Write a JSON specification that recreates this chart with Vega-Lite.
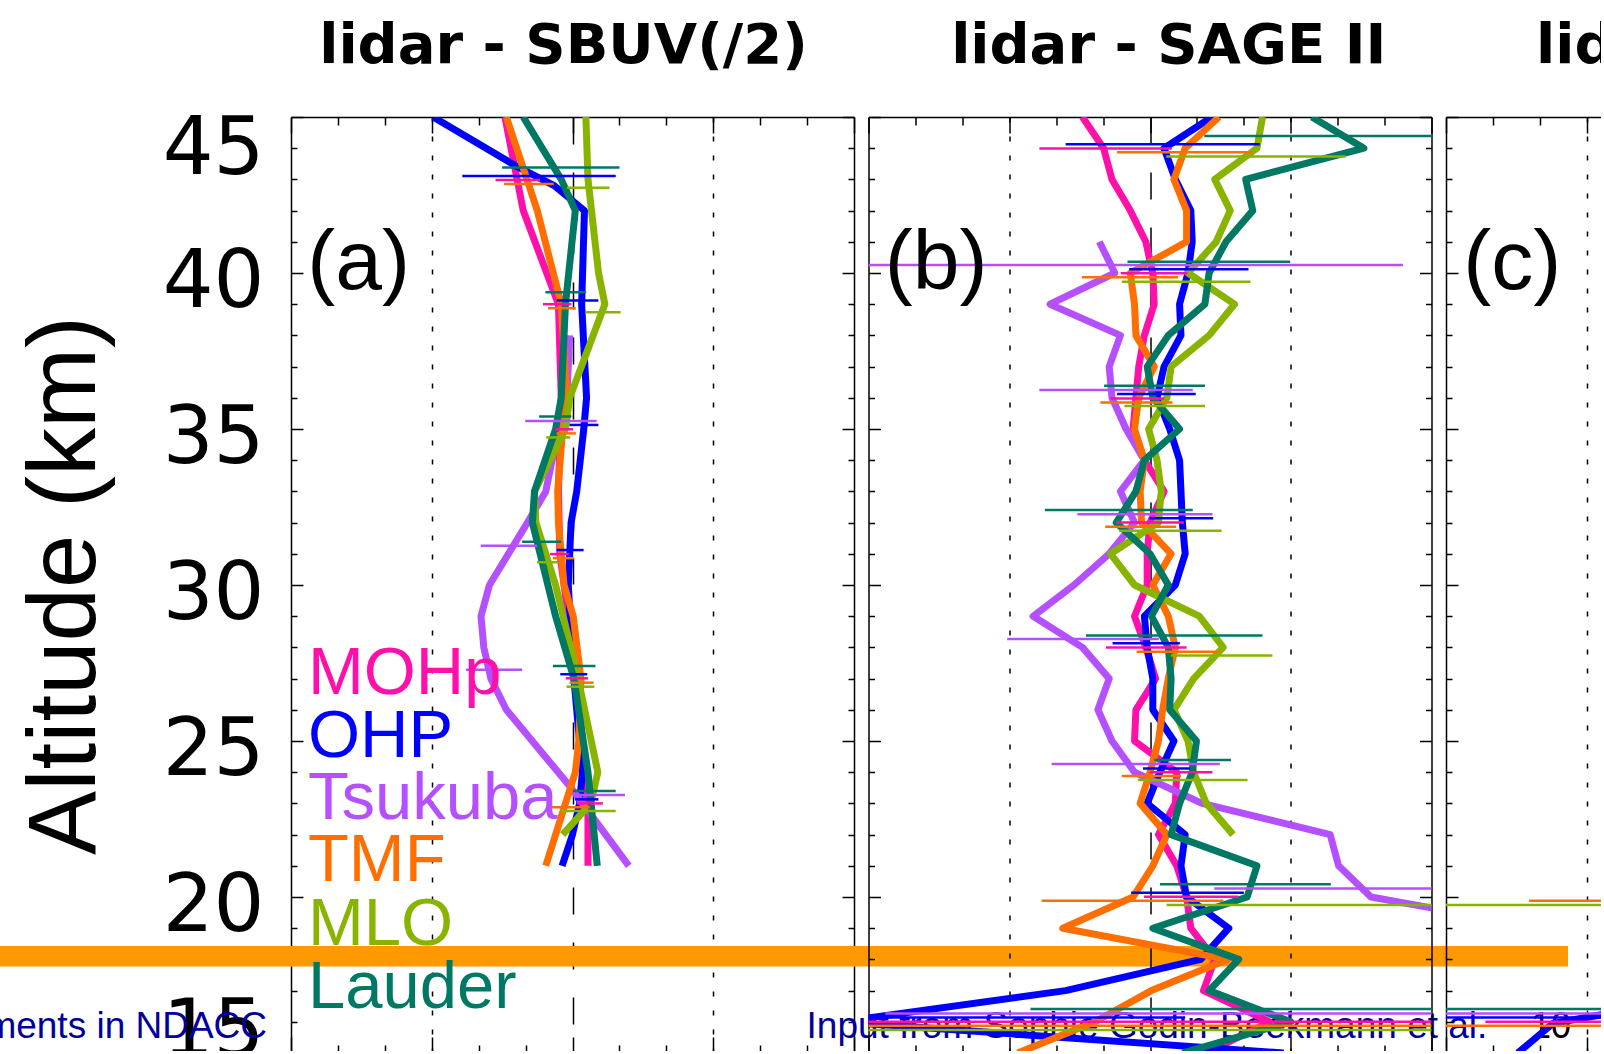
{
  "$schema": "https://vega.github.io/schema/vega-lite/v6.json",
  "background": "white",
  "padding": {"left": -60, "top": 18, "right": -409, "bottom": -20},
  "bounds": "flush",
  "spacing": 14.5,
  "config": {"view": {"stroke": null}, "axis": {"minExtent": 0}},
  "datasets": {
    "one": [{}],
    "prof": [
      {"panel": "a", "station": "MOHp", "alt": 45, "diff": -4.8},
      {"panel": "a", "station": "MOHp", "alt": 42, "diff": -3.5},
      {"panel": "a", "station": "MOHp", "alt": 39, "diff": -1.0},
      {"panel": "a", "station": "MOHp", "alt": 36, "diff": -0.8},
      {"panel": "a", "station": "MOHp", "alt": 33, "diff": -1.0},
      {"panel": "a", "station": "MOHp", "alt": 31, "diff": -0.9},
      {"panel": "a", "station": "MOHp", "alt": 30, "diff": -0.6},
      {"panel": "a", "station": "MOHp", "alt": 27, "diff": 0.3},
      {"panel": "a", "station": "MOHp", "alt": 24, "diff": 0.9},
      {"panel": "a", "station": "MOHp", "alt": 23, "diff": 1.1},
      {"panel": "a", "station": "MOHp", "alt": 21, "diff": 1.1},
      {"panel": "a", "station": "OHP", "alt": 45, "diff": -9.9},
      {"panel": "a", "station": "OHP", "alt": 43.4, "diff": -3.9},
      {"panel": "a", "station": "OHP", "alt": 42.8, "diff": -1.3},
      {"panel": "a", "station": "OHP", "alt": 42, "diff": 0.85},
      {"panel": "a", "station": "OHP", "alt": 39, "diff": 0.65},
      {"panel": "a", "station": "OHP", "alt": 36, "diff": 1.0},
      {"panel": "a", "station": "OHP", "alt": 35, "diff": 0.8},
      {"panel": "a", "station": "OHP", "alt": 33, "diff": 0.3},
      {"panel": "a", "station": "OHP", "alt": 32, "diff": -0.1},
      {"panel": "a", "station": "OHP", "alt": 31, "diff": -0.2},
      {"panel": "a", "station": "OHP", "alt": 30, "diff": -0.3},
      {"panel": "a", "station": "OHP", "alt": 27, "diff": 0.1},
      {"panel": "a", "station": "OHP", "alt": 24, "diff": 0.7},
      {"panel": "a", "station": "OHP", "alt": 23, "diff": 0.5},
      {"panel": "a", "station": "OHP", "alt": 22, "diff": 0.0},
      {"panel": "a", "station": "OHP", "alt": 21, "diff": -0.74},
      {"panel": "a", "station": "Tsukuba", "alt": 38, "diff": -0.2},
      {"panel": "a", "station": "Tsukuba", "alt": 36, "diff": -0.4},
      {"panel": "a", "station": "Tsukuba", "alt": 35, "diff": -1.0},
      {"panel": "a", "station": "Tsukuba", "alt": 33, "diff": -1.9},
      {"panel": "a", "station": "Tsukuba", "alt": 32, "diff": -3.2},
      {"panel": "a", "station": "Tsukuba", "alt": 30, "diff": -5.9},
      {"panel": "a", "station": "Tsukuba", "alt": 29, "diff": -6.5},
      {"panel": "a", "station": "Tsukuba", "alt": 28, "diff": -6.3},
      {"panel": "a", "station": "Tsukuba", "alt": 27, "diff": -5.8},
      {"panel": "a", "station": "Tsukuba", "alt": 26, "diff": -4.7},
      {"panel": "a", "station": "Tsukuba", "alt": 23.5, "diff": -0.1},
      {"panel": "a", "station": "Tsukuba", "alt": 21, "diff": 4.0},
      {"panel": "a", "station": "TMF", "alt": 45, "diff": -4.7},
      {"panel": "a", "station": "TMF", "alt": 42, "diff": -2.5},
      {"panel": "a", "station": "TMF", "alt": 39, "diff": -0.8},
      {"panel": "a", "station": "TMF", "alt": 36, "diff": -0.4},
      {"panel": "a", "station": "TMF", "alt": 35, "diff": -0.7},
      {"panel": "a", "station": "TMF", "alt": 33, "diff": -1.05},
      {"panel": "a", "station": "TMF", "alt": 32, "diff": -1.0},
      {"panel": "a", "station": "TMF", "alt": 30, "diff": -0.6},
      {"panel": "a", "station": "TMF", "alt": 29, "diff": 0.05},
      {"panel": "a", "station": "TMF", "alt": 27, "diff": 0.6},
      {"panel": "a", "station": "TMF", "alt": 25, "diff": 0.45},
      {"panel": "a", "station": "TMF", "alt": 24, "diff": 0.2},
      {"panel": "a", "station": "TMF", "alt": 21, "diff": -1.9},
      {"panel": "a", "station": "MLO", "alt": 45, "diff": 0.95},
      {"panel": "a", "station": "MLO", "alt": 43, "diff": 1.1},
      {"panel": "a", "station": "MLO", "alt": 40, "diff": 1.85},
      {"panel": "a", "station": "MLO", "alt": 39, "diff": 2.3},
      {"panel": "a", "station": "MLO", "alt": 36, "diff": -0.2},
      {"panel": "a", "station": "MLO", "alt": 35, "diff": -0.5},
      {"panel": "a", "station": "MLO", "alt": 33, "diff": -2.7},
      {"panel": "a", "station": "MLO", "alt": 32, "diff": -2.6},
      {"panel": "a", "station": "MLO", "alt": 30, "diff": -1.2},
      {"panel": "a", "station": "MLO", "alt": 27, "diff": 0.4},
      {"panel": "a", "station": "MLO", "alt": 24, "diff": 1.8},
      {"panel": "a", "station": "MLO", "alt": 23, "diff": 1.3},
      {"panel": "a", "station": "MLO", "alt": 22, "diff": -0.7},
      {"panel": "a", "station": "Lauder", "alt": 45, "diff": -3.5},
      {"panel": "a", "station": "Lauder", "alt": 43, "diff": -0.8},
      {"panel": "a", "station": "Lauder", "alt": 42, "diff": 0.2},
      {"panel": "a", "station": "Lauder", "alt": 39, "diff": -0.5},
      {"panel": "a", "station": "Lauder", "alt": 36, "diff": -0.8},
      {"panel": "a", "station": "Lauder", "alt": 35, "diff": -1.2},
      {"panel": "a", "station": "Lauder", "alt": 33, "diff": -2.7},
      {"panel": "a", "station": "Lauder", "alt": 32, "diff": -2.85},
      {"panel": "a", "station": "Lauder", "alt": 29, "diff": -1.2},
      {"panel": "a", "station": "Lauder", "alt": 27, "diff": 0.1},
      {"panel": "a", "station": "Lauder", "alt": 24, "diff": 1.1},
      {"panel": "a", "station": "Lauder", "alt": 21, "diff": 1.76},

      {"panel": "b", "station": "MOHp", "alt": 45, "diff": -4.8},
      {"panel": "b", "station": "MOHp", "alt": 44, "diff": -3.3},
      {"panel": "b", "station": "MOHp", "alt": 43, "diff": -2.7},
      {"panel": "b", "station": "MOHp", "alt": 42, "diff": -1.4},
      {"panel": "b", "station": "MOHp", "alt": 41, "diff": -0.3},
      {"panel": "b", "station": "MOHp", "alt": 40, "diff": 0.2},
      {"panel": "b", "station": "MOHp", "alt": 39, "diff": 0.3},
      {"panel": "b", "station": "MOHp", "alt": 38, "diff": -0.4},
      {"panel": "b", "station": "MOHp", "alt": 37, "diff": -0.8},
      {"panel": "b", "station": "MOHp", "alt": 36, "diff": -1.0},
      {"panel": "b", "station": "MOHp", "alt": 35, "diff": -1.2},
      {"panel": "b", "station": "MOHp", "alt": 34, "diff": -0.4},
      {"panel": "b", "station": "MOHp", "alt": 33, "diff": 1.0},
      {"panel": "b", "station": "MOHp", "alt": 32, "diff": 0.0},
      {"panel": "b", "station": "MOHp", "alt": 31, "diff": -0.2},
      {"panel": "b", "station": "MOHp", "alt": 30, "diff": -0.2},
      {"panel": "b", "station": "MOHp", "alt": 29, "diff": -1.1},
      {"panel": "b", "station": "MOHp", "alt": 28, "diff": -0.3},
      {"panel": "b", "station": "MOHp", "alt": 27, "diff": 0.4},
      {"panel": "b", "station": "MOHp", "alt": 26, "diff": -1.0},
      {"panel": "b", "station": "MOHp", "alt": 25, "diff": -1.1},
      {"panel": "b", "station": "MOHp", "alt": 24, "diff": 1.9},
      {"panel": "b", "station": "MOHp", "alt": 23, "diff": 1.8},
      {"panel": "b", "station": "MOHp", "alt": 22, "diff": 0.6},
      {"panel": "b", "station": "MOHp", "alt": 21, "diff": 1.9},
      {"panel": "b", "station": "MOHp", "alt": 20, "diff": 2.6},
      {"panel": "b", "station": "MOHp", "alt": 19, "diff": 2.9},
      {"panel": "b", "station": "MOHp", "alt": 18, "diff": 4.6},
      {"panel": "b", "station": "MOHp", "alt": 17, "diff": 3.8},
      {"panel": "b", "station": "MOHp", "alt": 16, "diff": 8.5},
      {"panel": "b", "station": "MOHp", "alt": 15, "diff": 4.0},
      {"panel": "b", "station": "OHP", "alt": 45, "diff": 4.4},
      {"panel": "b", "station": "OHP", "alt": 44, "diff": 1.0},
      {"panel": "b", "station": "OHP", "alt": 43, "diff": 1.8},
      {"panel": "b", "station": "OHP", "alt": 42, "diff": 2.9},
      {"panel": "b", "station": "OHP", "alt": 41, "diff": 3.0},
      {"panel": "b", "station": "OHP", "alt": 40, "diff": 2.7},
      {"panel": "b", "station": "OHP", "alt": 39, "diff": 2.1},
      {"panel": "b", "station": "OHP", "alt": 38, "diff": 2.2},
      {"panel": "b", "station": "OHP", "alt": 37, "diff": 1.0},
      {"panel": "b", "station": "OHP", "alt": 36, "diff": 0.5},
      {"panel": "b", "station": "OHP", "alt": 35, "diff": 1.4},
      {"panel": "b", "station": "OHP", "alt": 34, "diff": 2.1},
      {"panel": "b", "station": "OHP", "alt": 33, "diff": 2.2},
      {"panel": "b", "station": "OHP", "alt": 32, "diff": 2.3},
      {"panel": "b", "station": "OHP", "alt": 31, "diff": 2.5},
      {"panel": "b", "station": "OHP", "alt": 30, "diff": 1.8},
      {"panel": "b", "station": "OHP", "alt": 29, "diff": -0.4},
      {"panel": "b", "station": "OHP", "alt": 28, "diff": -0.2},
      {"panel": "b", "station": "OHP", "alt": 27, "diff": 0.2},
      {"panel": "b", "station": "OHP", "alt": 26, "diff": 0.2},
      {"panel": "b", "station": "OHP", "alt": 25, "diff": 1.7},
      {"panel": "b", "station": "OHP", "alt": 24, "diff": 0.7},
      {"panel": "b", "station": "OHP", "alt": 23, "diff": -0.2},
      {"panel": "b", "station": "OHP", "alt": 22, "diff": 2.5},
      {"panel": "b", "station": "OHP", "alt": 21, "diff": 2.2},
      {"panel": "b", "station": "OHP", "alt": 20, "diff": 2.6},
      {"panel": "b", "station": "OHP", "alt": 19, "diff": 5.6},
      {"panel": "b", "station": "OHP", "alt": 18, "diff": 3.6},
      {"panel": "b", "station": "OHP", "alt": 17, "diff": -6.0},
      {"panel": "b", "station": "OHP", "alt": 16, "diff": -22},
      {"panel": "b", "station": "OHP", "alt": 15, "diff": 9.5},
      {"panel": "b", "station": "Tsukuba", "alt": 41, "diff": -3.6},
      {"panel": "b", "station": "Tsukuba", "alt": 40, "diff": -2.5},
      {"panel": "b", "station": "Tsukuba", "alt": 39, "diff": -7.1},
      {"panel": "b", "station": "Tsukuba", "alt": 38, "diff": -2.1},
      {"panel": "b", "station": "Tsukuba", "alt": 37, "diff": -2.9},
      {"panel": "b", "station": "Tsukuba", "alt": 36, "diff": -2.7},
      {"panel": "b", "station": "Tsukuba", "alt": 35, "diff": -1.7},
      {"panel": "b", "station": "Tsukuba", "alt": 34, "diff": -0.4},
      {"panel": "b", "station": "Tsukuba", "alt": 33, "diff": -2.1},
      {"panel": "b", "station": "Tsukuba", "alt": 32, "diff": -1.1},
      {"panel": "b", "station": "Tsukuba", "alt": 31, "diff": -2.9},
      {"panel": "b", "station": "Tsukuba", "alt": 30, "diff": -5.4},
      {"panel": "b", "station": "Tsukuba", "alt": 29, "diff": -8.3},
      {"panel": "b", "station": "Tsukuba", "alt": 28, "diff": -4.8},
      {"panel": "b", "station": "Tsukuba", "alt": 27, "diff": -2.9},
      {"panel": "b", "station": "Tsukuba", "alt": 26, "diff": -3.7},
      {"panel": "b", "station": "Tsukuba", "alt": 25, "diff": -2.7},
      {"panel": "b", "station": "Tsukuba", "alt": 24, "diff": -1.1},
      {"panel": "b", "station": "Tsukuba", "alt": 23, "diff": 3.7},
      {"panel": "b", "station": "Tsukuba", "alt": 22, "diff": 12.8},
      {"panel": "b", "station": "Tsukuba", "alt": 21, "diff": 13.4},
      {"panel": "b", "station": "Tsukuba", "alt": 20, "diff": 15.7},
      {"panel": "b", "station": "Tsukuba", "alt": 19, "diff": 28},
      {"panel": "b", "station": "TMF", "alt": 45, "diff": 4.9},
      {"panel": "b", "station": "TMF", "alt": 44, "diff": 2.5},
      {"panel": "b", "station": "TMF", "alt": 43, "diff": 1.7},
      {"panel": "b", "station": "TMF", "alt": 42, "diff": 2.6},
      {"panel": "b", "station": "TMF", "alt": 41, "diff": 2.6},
      {"panel": "b", "station": "TMF", "alt": 40, "diff": -1.4},
      {"panel": "b", "station": "TMF", "alt": 39, "diff": -1.1},
      {"panel": "b", "station": "TMF", "alt": 38, "diff": -1.0},
      {"panel": "b", "station": "TMF", "alt": 37, "diff": 0.3},
      {"panel": "b", "station": "TMF", "alt": 36, "diff": -0.8},
      {"panel": "b", "station": "TMF", "alt": 35, "diff": -1.1},
      {"panel": "b", "station": "TMF", "alt": 34, "diff": -0.4},
      {"panel": "b", "station": "TMF", "alt": 33, "diff": -0.7},
      {"panel": "b", "station": "TMF", "alt": 32, "diff": -0.6},
      {"panel": "b", "station": "TMF", "alt": 31, "diff": 1.5},
      {"panel": "b", "station": "TMF", "alt": 30, "diff": 0.2},
      {"panel": "b", "station": "TMF", "alt": 29, "diff": 1.3},
      {"panel": "b", "station": "TMF", "alt": 28, "diff": 1.8},
      {"panel": "b", "station": "TMF", "alt": 27, "diff": 1.3},
      {"panel": "b", "station": "TMF", "alt": 26, "diff": 0.9},
      {"panel": "b", "station": "TMF", "alt": 25, "diff": 0.6},
      {"panel": "b", "station": "TMF", "alt": 24, "diff": 0.0},
      {"panel": "b", "station": "TMF", "alt": 23, "diff": -0.7},
      {"panel": "b", "station": "TMF", "alt": 22, "diff": 1.2},
      {"panel": "b", "station": "TMF", "alt": 21, "diff": 0.2},
      {"panel": "b", "station": "TMF", "alt": 20, "diff": -1.2},
      {"panel": "b", "station": "TMF", "alt": 19, "diff": -6.2},
      {"panel": "b", "station": "TMF", "alt": 18, "diff": 5.5},
      {"panel": "b", "station": "TMF", "alt": 17, "diff": 0.1},
      {"panel": "b", "station": "TMF", "alt": 16, "diff": -3.9},
      {"panel": "b", "station": "TMF", "alt": 15, "diff": -9.4},
      {"panel": "b", "station": "MLO", "alt": 45, "diff": 8.0},
      {"panel": "b", "station": "MLO", "alt": 44, "diff": 7.6},
      {"panel": "b", "station": "MLO", "alt": 43, "diff": 4.6},
      {"panel": "b", "station": "MLO", "alt": 42, "diff": 5.7},
      {"panel": "b", "station": "MLO", "alt": 41, "diff": 4.7},
      {"panel": "b", "station": "MLO", "alt": 40, "diff": 2.7},
      {"panel": "b", "station": "MLO", "alt": 39, "diff": 6.0},
      {"panel": "b", "station": "MLO", "alt": 38, "diff": 4.2},
      {"panel": "b", "station": "MLO", "alt": 37, "diff": 1.5},
      {"panel": "b", "station": "MLO", "alt": 36, "diff": 1.2},
      {"panel": "b", "station": "MLO", "alt": 35, "diff": -0.1},
      {"panel": "b", "station": "MLO", "alt": 34, "diff": 0.5},
      {"panel": "b", "station": "MLO", "alt": 33, "diff": 0.8},
      {"panel": "b", "station": "MLO", "alt": 32, "diff": 0.6},
      {"panel": "b", "station": "MLO", "alt": 31, "diff": -2.8},
      {"panel": "b", "station": "MLO", "alt": 30, "diff": -1.1},
      {"panel": "b", "station": "MLO", "alt": 29, "diff": 3.5},
      {"panel": "b", "station": "MLO", "alt": 28, "diff": 5.2},
      {"panel": "b", "station": "MLO", "alt": 27, "diff": 3.1},
      {"panel": "b", "station": "MLO", "alt": 26, "diff": 1.7},
      {"panel": "b", "station": "MLO", "alt": 25, "diff": 2.7},
      {"panel": "b", "station": "MLO", "alt": 24, "diff": 3.1},
      {"panel": "b", "station": "MLO", "alt": 23, "diff": 4.0},
      {"panel": "b", "station": "MLO", "alt": 22, "diff": 5.9},
      {"panel": "b", "station": "Lauder", "alt": 45, "diff": 11.5},
      {"panel": "b", "station": "Lauder", "alt": 44, "diff": 15.2},
      {"panel": "b", "station": "Lauder", "alt": 43, "diff": 6.8},
      {"panel": "b", "station": "Lauder", "alt": 42, "diff": 7.3},
      {"panel": "b", "station": "Lauder", "alt": 41, "diff": 5.4},
      {"panel": "b", "station": "Lauder", "alt": 40, "diff": 4.2},
      {"panel": "b", "station": "Lauder", "alt": 39, "diff": 3.9},
      {"panel": "b", "station": "Lauder", "alt": 38, "diff": 1.3},
      {"panel": "b", "station": "Lauder", "alt": 37, "diff": -0.2},
      {"panel": "b", "station": "Lauder", "alt": 36, "diff": 0.2},
      {"panel": "b", "station": "Lauder", "alt": 35, "diff": 2.1},
      {"panel": "b", "station": "Lauder", "alt": 34, "diff": -0.4},
      {"panel": "b", "station": "Lauder", "alt": 33, "diff": -1.0},
      {"panel": "b", "station": "Lauder", "alt": 32, "diff": -2.4},
      {"panel": "b", "station": "Lauder", "alt": 31, "diff": 0.0},
      {"panel": "b", "station": "Lauder", "alt": 30, "diff": 1.3},
      {"panel": "b", "station": "Lauder", "alt": 29, "diff": 0.1},
      {"panel": "b", "station": "Lauder", "alt": 28, "diff": 1.3},
      {"panel": "b", "station": "Lauder", "alt": 27, "diff": 1.5},
      {"panel": "b", "station": "Lauder", "alt": 26, "diff": 1.4},
      {"panel": "b", "station": "Lauder", "alt": 25, "diff": 3.3},
      {"panel": "b", "station": "Lauder", "alt": 24, "diff": 3.0},
      {"panel": "b", "station": "Lauder", "alt": 23, "diff": 2.1},
      {"panel": "b", "station": "Lauder", "alt": 22, "diff": 1.5},
      {"panel": "b", "station": "Lauder", "alt": 21, "diff": 7.6},
      {"panel": "b", "station": "Lauder", "alt": 20, "diff": 6.9},
      {"panel": "b", "station": "Lauder", "alt": 19, "diff": 0.2},
      {"panel": "b", "station": "Lauder", "alt": 18, "diff": 6.3},
      {"panel": "b", "station": "Lauder", "alt": 17, "diff": 4.2},
      {"panel": "b", "station": "Lauder", "alt": 16, "diff": 10.0},
      {"panel": "b", "station": "Lauder", "alt": 15, "diff": 2.3},

      {"panel": "c", "station": "OHP", "alt": 15.0, "diff": -14.9},
      {"panel": "c", "station": "OHP", "alt": 15.95, "diff": -12.4},
      {"panel": "c", "station": "OHP", "alt": 16.3, "diff": -8.0}
    ],
    "err": [
      {"panel": "a", "station": "MOHp", "alt": 42.98, "lo": -5.47, "hi": -2.31},
      {"panel": "a", "station": "MOHp", "alt": 39.0, "lo": -2.1, "hi": -0.08},
      {"panel": "a", "station": "MOHp", "alt": 34.99, "lo": -1.21, "hi": 0.05},
      {"panel": "a", "station": "MOHp", "alt": 30.99, "lo": -1.6, "hi": -0.26},
      {"panel": "a", "station": "MOHp", "alt": 27.01, "lo": -0.47, "hi": 1.1},
      {"panel": "a", "station": "MOHp", "alt": 23.0, "lo": 0.32, "hi": 2.16},
      {"panel": "a", "station": "OHP", "alt": 43.11, "lo": -7.83, "hi": 3.07},
      {"panel": "a", "station": "OHP", "alt": 39.12, "lo": -1.13, "hi": 1.84},
      {"panel": "a", "station": "OHP", "alt": 35.13, "lo": -0.21, "hi": 1.84},
      {"panel": "a", "station": "OHP", "alt": 31.12, "lo": -1.13, "hi": 0.79},
      {"panel": "a", "station": "OHP", "alt": 27.14, "lo": -0.87, "hi": 1.05},
      {"panel": "a", "station": "OHP", "alt": 23.13, "lo": 0.18, "hi": 1.84},
      {"panel": "a", "station": "Tsukuba", "alt": 35.26, "lo": -3.36, "hi": 1.71},
      {"panel": "a", "station": "Tsukuba", "alt": 31.26, "lo": -6.52, "hi": -2.52},
      {"panel": "a", "station": "Tsukuba", "alt": 27.28, "lo": -7.57, "hi": -3.58},
      {"panel": "a", "station": "Tsukuba", "alt": 23.27, "lo": 0.18, "hi": 3.73},
      {"panel": "a", "station": "TMF", "alt": 42.85, "lo": -4.86, "hi": -1.34},
      {"panel": "a", "station": "TMF", "alt": 38.87, "lo": -1.74, "hi": 0.24},
      {"panel": "a", "station": "TMF", "alt": 34.86, "lo": -1.13, "hi": 0.24},
      {"panel": "a", "station": "TMF", "alt": 30.86, "lo": -1.39, "hi": 0.11},
      {"panel": "a", "station": "TMF", "alt": 26.87, "lo": -0.21, "hi": 1.5},
      {"panel": "a", "station": "TMF", "alt": 22.88, "lo": -1.52, "hi": 1.23},
      {"panel": "a", "station": "MLO", "alt": 42.73, "lo": -0.39, "hi": 2.63},
      {"panel": "a", "station": "MLO", "alt": 38.74, "lo": 0.92, "hi": 3.42},
      {"panel": "a", "station": "MLO", "alt": 34.73, "lo": -1.87, "hi": -0.16},
      {"panel": "a", "station": "MLO", "alt": 30.73, "lo": -2.52, "hi": -1.0},
      {"panel": "a", "station": "MLO", "alt": 26.74, "lo": -0.42, "hi": 1.55},
      {"panel": "a", "station": "MLO", "alt": 22.76, "lo": -0.87, "hi": 3.07},
      {"panel": "a", "station": "Lauder", "alt": 43.38, "lo": -5.0, "hi": 3.34},
      {"panel": "a", "station": "Lauder", "alt": 39.38, "lo": -1.92, "hi": 0.97},
      {"panel": "a", "station": "Lauder", "alt": 35.4, "lo": -2.37, "hi": -0.08},
      {"panel": "a", "station": "Lauder", "alt": 31.39, "lo": -3.58, "hi": -0.81},
      {"panel": "a", "station": "Lauder", "alt": 27.4, "lo": -1.39, "hi": 1.63},
      {"panel": "a", "station": "Lauder", "alt": 23.4, "lo": 0.05, "hi": 3.07},

      {"panel": "b", "station": "MOHp", "alt": 43.99, "lo": -7.86, "hi": 1.55},
      {"panel": "b", "station": "MOHp", "alt": 39.99, "lo": -2.08, "hi": 2.65},
      {"panel": "b", "station": "MOHp", "alt": 35.98, "lo": -2.8, "hi": 1.02},
      {"panel": "b", "station": "MOHp", "alt": 32.0, "lo": -2.4, "hi": 2.41},
      {"panel": "b", "station": "MOHp", "alt": 28.0, "lo": -3.13, "hi": 2.6},
      {"panel": "b", "station": "MOHp", "alt": 24.0, "lo": -0.03, "hi": 4.44},
      {"panel": "b", "station": "MOHp", "alt": 20.01, "lo": -0.43, "hi": 6.28},
      {"panel": "b", "station": "MOHp", "alt": 16.0, "lo": -25, "hi": 25},
      {"panel": "b", "station": "OHP", "alt": 44.13, "lo": -5.99, "hi": 7.8},
      {"panel": "b", "station": "OHP", "alt": 40.12, "lo": -1.48, "hi": 7.0},
      {"panel": "b", "station": "OHP", "alt": 36.12, "lo": -2.34, "hi": 3.25},
      {"panel": "b", "station": "OHP", "alt": 32.14, "lo": -0.03, "hi": 4.49},
      {"panel": "b", "station": "OHP", "alt": 28.13, "lo": -2.66, "hi": 2.12},
      {"panel": "b", "station": "OHP", "alt": 24.12, "lo": -0.5, "hi": 2.86},
      {"panel": "b", "station": "OHP", "alt": 20.14, "lo": -1.34, "hi": 6.67},
      {"panel": "b", "station": "OHP", "alt": 16.14, "lo": -25, "hi": 2.5},
      {"panel": "b", "station": "Tsukuba", "alt": 40.26, "lo": -23.6, "hi": 17.97},
      {"panel": "b", "station": "Tsukuba", "alt": 36.25, "lo": -7.86, "hi": 3.04},
      {"panel": "b", "station": "Tsukuba", "alt": 32.27, "lo": -5.16, "hi": 4.44},
      {"panel": "b", "station": "Tsukuba", "alt": 28.27, "lo": -10.15, "hi": 0.63},
      {"panel": "b", "station": "Tsukuba", "alt": 24.26, "lo": -6.99, "hi": 4.96},
      {"panel": "b", "station": "Tsukuba", "alt": 20.27, "lo": 4.57, "hi": 25.6},
      {"panel": "b", "station": "Tsukuba", "alt": 16.27, "lo": -18.8, "hi": 30},
      {"panel": "b", "station": "TMF", "alt": 43.87, "lo": -2.34, "hi": 7.27},
      {"panel": "b", "station": "TMF", "alt": 39.86, "lo": -4.84, "hi": 1.99},
      {"panel": "b", "station": "TMF", "alt": 35.85, "lo": -3.53, "hi": 1.6},
      {"panel": "b", "station": "TMF", "alt": 31.87, "lo": -3.18, "hi": 1.86},
      {"panel": "b", "station": "TMF", "alt": 27.86, "lo": -0.95, "hi": 4.91},
      {"panel": "b", "station": "TMF", "alt": 23.88, "lo": -2.0, "hi": 2.2},
      {"panel": "b", "station": "TMF", "alt": 19.88, "lo": -7.7, "hi": 5.23},
      {"panel": "b", "station": "TMF", "alt": 15.87, "lo": -25, "hi": 25},
      {"panel": "b", "station": "MLO", "alt": 43.73, "lo": 1.15, "hi": 13.9},
      {"panel": "b", "station": "MLO", "alt": 39.72, "lo": -2.0, "hi": 7.14},
      {"panel": "b", "station": "MLO", "alt": 35.74, "lo": -1.82, "hi": 3.91},
      {"panel": "b", "station": "MLO", "alt": 31.74, "lo": -2.19, "hi": 5.09},
      {"panel": "b", "station": "MLO", "alt": 27.74, "lo": 1.49, "hi": 8.7},
      {"panel": "b", "station": "MLO", "alt": 23.75, "lo": -0.87, "hi": 6.93},
      {"panel": "b", "station": "MLO", "alt": 19.74, "lo": 1.18, "hi": 30},
      {"panel": "b", "station": "MLO", "alt": 15.74, "lo": -25, "hi": 25},
      {"panel": "b", "station": "Lauder", "alt": 44.39, "lo": 3.86, "hi": 23.5},
      {"panel": "b", "station": "Lauder", "alt": 40.36, "lo": -1.6, "hi": 9.96},
      {"panel": "b", "station": "Lauder", "alt": 36.39, "lo": -3.26, "hi": 3.91},
      {"panel": "b", "station": "Lauder", "alt": 32.4, "lo": -7.47, "hi": 3.04},
      {"panel": "b", "station": "Lauder", "alt": 28.38, "lo": -4.55, "hi": 7.99},
      {"panel": "b", "station": "Lauder", "alt": 24.39, "lo": 0.31, "hi": 5.75},
      {"panel": "b", "station": "Lauder", "alt": 20.41, "lo": 0.71, "hi": 12.85},
      {"panel": "b", "station": "Lauder", "alt": 16.41, "lo": -8.49, "hi": 24.3},

      {"panel": "c", "station": "MOHp", "alt": 16.0, "lo": -17.2, "hi": 25},
      {"panel": "c", "station": "OHP", "alt": 16.14, "lo": -25, "hi": 25},
      {"panel": "c", "station": "Tsukuba", "alt": 16.27, "lo": -25, "hi": 25},
      {"panel": "c", "station": "TMF", "alt": 19.88, "lo": -14.1, "hi": 25},
      {"panel": "c", "station": "TMF", "alt": 15.87, "lo": -25, "hi": 25},
      {"panel": "c", "station": "MLO", "alt": 19.74, "lo": -25, "hi": 25},
      {"panel": "c", "station": "Lauder", "alt": 16.41, "lo": -25, "hi": 25}
    ]
  },
  "hconcat": [
    {
      "width": 563,
      "height": 936,
      "resolve": {"axis": {"x": "independent", "y": "independent"}},
      "layer": [
        {
          "data": {"name": "one"},
          "mark": {"type": "rect", "color": "#FF9900"},
          "encoding": {
            "x": {"datum": -44.867, "type": "quantitative", "scale": {"domain": [-20, 20], "nice": false, "zero": false}, "axis": null},
            "x2": {"datum": 70.73},
            "y": {"datum": 17.77, "type": "quantitative", "scale": {"domain": [15, 45], "nice": false, "zero": false}, "axis": null},
            "y2": {"datum": 18.43}
          }
        },
        {
          "data": {"name": "one"},
          "mark": {"type": "text", "text": "ments in NDACC", "align": "right", "baseline": "alphabetic", "font": "Liberation Sans", "fontSize": 37, "color": "#00009C"},
          "encoding": {
            "x": {"datum": -21.7, "type": "quantitative", "axis": null},
            "y": {"datum": 15.48, "type": "quantitative", "axis": null}
          }
        },
        {
          "data": {"name": "one"},
          "mark": {"type": "text", "text": "Input from Sophie Godin-Beekmann et al.", "align": "left", "baseline": "alphabetic", "font": "Liberation Sans", "fontSize": 37, "color": "#00009C"},
          "encoding": {
            "x": {"datum": 16.63, "type": "quantitative", "axis": null},
            "y": {"datum": 15.48, "type": "quantitative", "axis": null}
          }
        },
        {
          "data": {"name": "prof"},
          "transform": [{"filter": "datum.panel === 'a'"}],
          "mark": {"type": "line", "strokeWidth": 7, "strokeJoin": "round", "clip": true},
          "encoding": {
            "x": {"field": "diff", "type": "quantitative", "scale": {"domain": [-20, 20], "nice": false, "zero": false},
              "axis": {"orient": "bottom", "values": [-20, -10, 0, 10, 20], "labels": false, "title": null, "tickSize": -16, "tickColor": "black", "tickWidth": 1.5, "domain": true, "domainColor": "black", "domainWidth": 1.5, "grid": true, "gridColor": "black", "gridWidth": 1.5, "gridDash": {"condition": {"test": "datum.value === 0", "value": [27, 28]}, "value": [5, 14]}, "gridOpacity": {"condition": {"test": "abs(datum.value) === 20", "value": 0}, "value": 1}, "minExtent": 0}},
            "y": {"field": "alt", "type": "quantitative", "scale": {"domain": [15, 45], "nice": false, "zero": false},
              "axis": {"orient": "left", "values": [15, 20, 25, 30, 35, 40, 45], "format": "d", "labels": true, "labelFont": "DejaVu Sans", "labelFontSize": 80, "labelColor": "black", "labelPadding": 39, "labelBaseline": "alphabetic", "labelOffset": {"condition": [{"test": "datum.value === 45", "value": 56}, {"test": "datum.value === 15", "value": 2}], "value": 33}, "labelOverlap": false, "labelFlush": false, "labelBound": false, "title": "Altitude (km)", "titleFont": "Liberation Sans", "titleFontSize": 96, "titleFontWeight": "normal", "titleColor": "black", "titlePadding": 48, "tickSize": -12, "tickColor": "black", "tickWidth": 1.5, "domain": true, "domainColor": "black", "domainWidth": 1.5, "grid": false, "minExtent": 0}},
            "color": {"field": "station", "type": "nominal", "scale": {"domain": ["MOHp", "OHP", "Tsukuba", "TMF", "MLO", "Lauder"], "range": ["#FF10AA", "#0000FF", "#B450FF", "#FF6E00", "#88B400", "#007864"]}, "legend": null},
            "order": {"field": "alt", "type": "quantitative"}
          }
        },
        {
          "data": {"name": "err"},
          "transform": [{"filter": "datum.panel === 'a'"}],
          "mark": {"type": "rule", "strokeWidth": 2.5, "clip": true},
          "encoding": {
            "x": {"field": "lo", "type": "quantitative",
              "axis": {"orient": "top", "values": [-20, -10, 0, 10, 20], "labels": false, "title": null, "tickSize": -16, "tickColor": "black", "tickWidth": 1.5, "domain": true, "domainColor": "black", "domainWidth": 1.5, "grid": false, "minExtent": 0}},
            "x2": {"field": "hi"},
            "y": {"field": "alt", "type": "quantitative",
              "axis": {"orient": "right", "values": [15, 20, 25, 30, 35, 40, 45], "labels": false, "title": null, "tickSize": -12, "tickColor": "black", "tickWidth": 1.5, "domain": true, "domainColor": "black", "domainWidth": 1.5, "grid": false, "minExtent": 0}},
            "color": {"field": "station", "type": "nominal", "legend": null}
          }
        },
        {
          "data": {"name": "one"},
          "mark": {"type": "text", "text": "(a)", "align": "center", "baseline": "alphabetic", "font": "Liberation Sans", "fontSize": 84, "color": "black"},
          "encoding": {
            "x": {"datum": -15.2, "type": "quantitative",
              "axis": {"orient": "bottom", "values": [-16.6667, -13.3333, -6.6667, -3.3333, 3.3333, 6.6667, 13.3333, 16.6667], "labels": false, "title": null, "tickSize": -8, "tickColor": "black", "tickWidth": 1.5, "domain": false, "grid": false, "minExtent": 0}},
            "y": {"datum": 39.5, "type": "quantitative",
              "axis": {"orient": "left", "values": [16, 17, 18, 19, 21, 22, 23, 24, 26, 27, 28, 29, 31, 32, 33, 34, 36, 37, 38, 39, 41, 42, 43, 44], "labels": false, "title": null, "tickSize": -6, "tickColor": "black", "tickWidth": 1.5, "domain": false, "grid": false, "minExtent": 0}}
          }
        },
        {
          "data": {"name": "one"},
          "mark": {"type": "text", "text": "lidar - SBUV(/2)", "align": "center", "baseline": "alphabetic", "font": "DejaVu Sans", "fontWeight": "bold", "fontSize": 56, "color": "black"},
          "encoding": {
            "x": {"datum": -0.64, "type": "quantitative",
              "axis": {"orient": "top", "values": [-16.6667, -13.3333, -6.6667, -3.3333, 3.3333, 6.6667, 13.3333, 16.6667], "labels": false, "title": null, "tickSize": -8, "tickColor": "black", "tickWidth": 1.5, "domain": false, "grid": false, "minExtent": 0}},
            "y": {"datum": 46.718, "type": "quantitative",
              "axis": {"orient": "right", "values": [16, 17, 18, 19, 21, 22, 23, 24, 26, 27, 28, 29, 31, 32, 33, 34, 36, 37, 38, 39, 41, 42, 43, 44], "labels": false, "title": null, "tickSize": -6, "tickColor": "black", "tickWidth": 1.5, "domain": false, "grid": false, "minExtent": 0}}
          }
        },
        {
          "data": {"name": "one"},
          "mark": {"type": "text", "text": "MOHp", "align": "left", "baseline": "alphabetic", "font": "Liberation Sans", "fontSize": 67, "color": "#FF10AA"},
          "encoding": {"x": {"datum": -18.8, "type": "quantitative", "axis": null}, "y": {"datum": 26.5, "type": "quantitative", "axis": null}}
        },
        {
          "data": {"name": "one"},
          "mark": {"type": "text", "text": "OHP", "align": "left", "baseline": "alphabetic", "font": "Liberation Sans", "fontSize": 67, "color": "#0000FF"},
          "encoding": {"x": {"datum": -18.8, "type": "quantitative", "axis": null}, "y": {"datum": 24.5, "type": "quantitative", "axis": null}}
        },
        {
          "data": {"name": "one"},
          "mark": {"type": "text", "text": "Tsukuba", "align": "left", "baseline": "alphabetic", "font": "Liberation Sans", "fontSize": 67, "color": "#B450FF"},
          "encoding": {"x": {"datum": -18.8, "type": "quantitative", "axis": null}, "y": {"datum": 22.5, "type": "quantitative", "axis": null}}
        },
        {
          "data": {"name": "one"},
          "mark": {"type": "text", "text": "TMF", "align": "left", "baseline": "alphabetic", "font": "Liberation Sans", "fontSize": 67, "color": "#FF6E00"},
          "encoding": {"x": {"datum": -18.8, "type": "quantitative", "axis": null}, "y": {"datum": 20.5, "type": "quantitative", "axis": null}}
        },
        {
          "data": {"name": "one"},
          "mark": {"type": "text", "text": "MLO", "align": "left", "baseline": "alphabetic", "font": "Liberation Sans", "fontSize": 67, "color": "#88B400"},
          "encoding": {"x": {"datum": -18.8, "type": "quantitative", "axis": null}, "y": {"datum": 18.45, "type": "quantitative", "axis": null}}
        },
        {
          "data": {"name": "one"},
          "mark": {"type": "text", "text": "Lauder", "align": "left", "baseline": "alphabetic", "font": "Liberation Sans", "fontSize": 67, "color": "#007864"},
          "encoding": {"x": {"datum": -18.8, "type": "quantitative", "axis": null}, "y": {"datum": 16.45, "type": "quantitative", "axis": null}}
        }
      ]
    },
    {
      "width": 563,
      "height": 936,
      "resolve": {"axis": {"x": "independent", "y": "independent"}},
      "layer": [
        {
          "data": {"name": "prof"},
          "transform": [{"filter": "datum.panel === 'b'"}],
          "mark": {"type": "line", "strokeWidth": 7, "strokeJoin": "round", "clip": true},
          "encoding": {
            "x": {"field": "diff", "type": "quantitative", "scale": {"domain": [-20, 20], "nice": false, "zero": false},
              "axis": {"orient": "bottom", "values": [-20, -10, 0, 10, 20], "labels": false, "title": null, "tickSize": -16, "tickColor": "black", "tickWidth": 1.5, "domain": true, "domainColor": "black", "domainWidth": 1.5, "grid": true, "gridColor": "black", "gridWidth": 1.5, "gridDash": {"condition": {"test": "datum.value === 0", "value": [27, 28]}, "value": [5, 14]}, "gridOpacity": {"condition": {"test": "abs(datum.value) === 20", "value": 0}, "value": 1}, "minExtent": 0}},
            "y": {"field": "alt", "type": "quantitative", "scale": {"domain": [15, 45], "nice": false, "zero": false},
              "axis": {"orient": "left", "values": [15, 20, 25, 30, 35, 40, 45], "labels": false, "title": null, "tickSize": -12, "tickColor": "black", "tickWidth": 1.5, "domain": true, "domainColor": "black", "domainWidth": 1.5, "grid": false, "minExtent": 0}},
            "color": {"field": "station", "type": "nominal", "scale": {"domain": ["MOHp", "OHP", "Tsukuba", "TMF", "MLO", "Lauder"], "range": ["#FF10AA", "#0000FF", "#B450FF", "#FF6E00", "#88B400", "#007864"]}, "legend": null},
            "order": {"field": "alt", "type": "quantitative"}
          }
        },
        {
          "data": {"name": "err"},
          "transform": [{"filter": "datum.panel === 'b'"}],
          "mark": {"type": "rule", "strokeWidth": 2.5, "clip": true},
          "encoding": {
            "x": {"field": "lo", "type": "quantitative",
              "axis": {"orient": "top", "values": [-20, -10, 0, 10, 20], "labels": false, "title": null, "tickSize": -16, "tickColor": "black", "tickWidth": 1.5, "domain": true, "domainColor": "black", "domainWidth": 1.5, "grid": false, "minExtent": 0}},
            "x2": {"field": "hi"},
            "y": {"field": "alt", "type": "quantitative",
              "axis": {"orient": "right", "values": [15, 20, 25, 30, 35, 40, 45], "labels": false, "title": null, "tickSize": -12, "tickColor": "black", "tickWidth": 1.5, "domain": true, "domainColor": "black", "domainWidth": 1.5, "grid": false, "minExtent": 0}},
            "color": {"field": "station", "type": "nominal", "legend": null}
          }
        },
        {
          "data": {"name": "one"},
          "mark": {"type": "text", "text": "(b)", "align": "center", "baseline": "alphabetic", "font": "Liberation Sans", "fontSize": 84, "color": "black"},
          "encoding": {
            "x": {"datum": -15.2, "type": "quantitative",
              "axis": {"orient": "bottom", "values": [-16.6667, -13.3333, -6.6667, -3.3333, 3.3333, 6.6667, 13.3333, 16.6667], "labels": false, "title": null, "tickSize": -8, "tickColor": "black", "tickWidth": 1.5, "domain": false, "grid": false, "minExtent": 0}},
            "y": {"datum": 39.5, "type": "quantitative",
              "axis": {"orient": "left", "values": [16, 17, 18, 19, 21, 22, 23, 24, 26, 27, 28, 29, 31, 32, 33, 34, 36, 37, 38, 39, 41, 42, 43, 44], "labels": false, "title": null, "tickSize": -6, "tickColor": "black", "tickWidth": 1.5, "domain": false, "grid": false, "minExtent": 0}}
          }
        },
        {
          "data": {"name": "one"},
          "mark": {"type": "text", "text": "lidar - SAGE II", "align": "center", "baseline": "alphabetic", "font": "DejaVu Sans", "fontWeight": "bold", "fontSize": 56, "color": "black"},
          "encoding": {
            "x": {"datum": 1.33, "type": "quantitative",
              "axis": {"orient": "top", "values": [-16.6667, -13.3333, -6.6667, -3.3333, 3.3333, 6.6667, 13.3333, 16.6667], "labels": false, "title": null, "tickSize": -8, "tickColor": "black", "tickWidth": 1.5, "domain": false, "grid": false, "minExtent": 0}},
            "y": {"datum": 46.718, "type": "quantitative",
              "axis": {"orient": "right", "values": [16, 17, 18, 19, 21, 22, 23, 24, 26, 27, 28, 29, 31, 32, 33, 34, 36, 37, 38, 39, 41, 42, 43, 44], "labels": false, "title": null, "tickSize": -6, "tickColor": "black", "tickWidth": 1.5, "domain": false, "grid": false, "minExtent": 0}}
          }
        }
      ]
    },
    {
      "width": 563,
      "height": 936,
      "resolve": {"axis": {"x": "independent", "y": "independent"}},
      "layer": [
        {
          "data": {"name": "one"},
          "mark": {"type": "text", "text": "10", "align": "center", "baseline": "alphabetic", "font": "Liberation Sans", "fontSize": 36, "color": "black"},
          "encoding": {
            "x": {"datum": -12.54, "type": "quantitative", "scale": {"domain": [-20, 20], "nice": false, "zero": false}, "axis": null},
            "y": {"datum": 15.48, "type": "quantitative", "scale": {"domain": [15, 45], "nice": false, "zero": false}, "axis": null}
          }
        },
        {
          "data": {"name": "prof"},
          "transform": [{"filter": "datum.panel === 'c'"}],
          "mark": {"type": "line", "strokeWidth": 7, "strokeJoin": "round", "clip": true},
          "encoding": {
            "x": {"field": "diff", "type": "quantitative",
              "axis": {"orient": "bottom", "values": [-20, -10, 0, 10, 20], "labels": false, "title": null, "tickSize": -16, "tickColor": "black", "tickWidth": 1.5, "domain": true, "domainColor": "black", "domainWidth": 1.5, "grid": true, "gridColor": "black", "gridWidth": 1.5, "gridDash": {"condition": {"test": "datum.value === 0", "value": [27, 28]}, "value": [5, 14]}, "gridOpacity": {"condition": {"test": "abs(datum.value) === 20", "value": 0}, "value": 1}, "minExtent": 0}},
            "y": {"field": "alt", "type": "quantitative",
              "axis": {"orient": "left", "values": [15, 20, 25, 30, 35, 40, 45], "labels": false, "title": null, "tickSize": -12, "tickColor": "black", "tickWidth": 1.5, "domain": true, "domainColor": "black", "domainWidth": 1.5, "grid": false, "minExtent": 0}},
            "color": {"field": "station", "type": "nominal", "scale": {"domain": ["MOHp", "OHP", "Tsukuba", "TMF", "MLO", "Lauder"], "range": ["#FF10AA", "#0000FF", "#B450FF", "#FF6E00", "#88B400", "#007864"]}, "legend": null},
            "order": {"field": "alt", "type": "quantitative"}
          }
        },
        {
          "data": {"name": "err"},
          "transform": [{"filter": "datum.panel === 'c'"}],
          "mark": {"type": "rule", "strokeWidth": 2.5, "clip": true},
          "encoding": {
            "x": {"field": "lo", "type": "quantitative",
              "axis": {"orient": "top", "values": [-20, -10, 0, 10, 20], "labels": false, "title": null, "tickSize": -16, "tickColor": "black", "tickWidth": 1.5, "domain": true, "domainColor": "black", "domainWidth": 1.5, "grid": false, "minExtent": 0}},
            "x2": {"field": "hi"},
            "y": {"field": "alt", "type": "quantitative",
              "axis": {"orient": "right", "values": [15, 20, 25, 30, 35, 40, 45], "labels": false, "title": null, "tickSize": -12, "tickColor": "black", "tickWidth": 1.5, "domain": true, "domainColor": "black", "domainWidth": 1.5, "grid": false, "minExtent": 0}},
            "color": {"field": "station", "type": "nominal", "legend": null}
          }
        },
        {
          "data": {"name": "one"},
          "mark": {"type": "text", "text": "(c)", "align": "center", "baseline": "alphabetic", "font": "Liberation Sans", "fontSize": 84, "color": "black"},
          "encoding": {
            "x": {"datum": -15.3, "type": "quantitative",
              "axis": {"orient": "bottom", "values": [-16.6667, -13.3333, -6.6667, -3.3333, 3.3333, 6.6667, 13.3333, 16.6667], "labels": false, "title": null, "tickSize": -8, "tickColor": "black", "tickWidth": 1.5, "domain": false, "grid": false, "minExtent": 0}},
            "y": {"datum": 39.5, "type": "quantitative",
              "axis": {"orient": "left", "values": [16, 17, 18, 19, 21, 22, 23, 24, 26, 27, 28, 29, 31, 32, 33, 34, 36, 37, 38, 39, 41, 42, 43, 44], "labels": false, "title": null, "tickSize": -6, "tickColor": "black", "tickWidth": 1.5, "domain": false, "grid": false, "minExtent": 0}}
          }
        },
        {
          "data": {"name": "one"},
          "mark": {"type": "text", "text": "lidar - HALOE", "align": "left", "baseline": "alphabetic", "font": "DejaVu Sans", "fontWeight": "bold", "fontSize": 56, "color": "black"},
          "encoding": {
            "x": {"datum": -13.6, "type": "quantitative",
              "axis": {"orient": "top", "values": [-16.6667, -13.3333, -6.6667, -3.3333, 3.3333, 6.6667, 13.3333, 16.6667], "labels": false, "title": null, "tickSize": -8, "tickColor": "black", "tickWidth": 1.5, "domain": false, "grid": false, "minExtent": 0}},
            "y": {"datum": 46.718, "type": "quantitative",
              "axis": {"orient": "right", "values": [16, 17, 18, 19, 21, 22, 23, 24, 26, 27, 28, 29, 31, 32, 33, 34, 36, 37, 38, 39, 41, 42, 43, 44], "labels": false, "title": null, "tickSize": -6, "tickColor": "black", "tickWidth": 1.5, "domain": false, "grid": false, "minExtent": 0}}
          }
        }
      ]
    }
  ]
}
